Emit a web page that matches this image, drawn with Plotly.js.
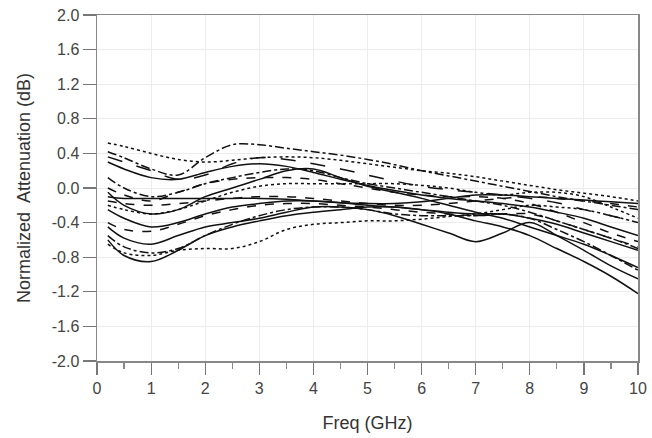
<!DOCTYPE html>
<html><head><meta charset="utf-8">
<script src="https://cdn.plot.ly/plotly-3.0.1.min.js"></script>
<style>html,body{margin:0;padding:0;background:#fff;}</style>
</head><body>
<div id="chart" style="width:652px;height:438px;"></div>
<script>
var freq = [0.2,0.5,1,1.5,2,2.5,3,3.5,4,4.5,5,5.5,6,6.5,7,7.5,8,8.5,9,9.5,10];
var s1  = [0.52,0.48,0.40,0.33,0.30,0.32,0.35,0.36,0.35,0.32,0.28,0.24,0.20,0.17,0.13,0.08,0.03,-0.02,-0.06,-0.10,-0.15];
var s2  = [0.42,0.35,0.22,0.15,0.35,0.50,0.50,0.46,0.42,0.38,0.33,0.27,0.20,0.14,0.08,0.02,-0.04,-0.10,-0.15,-0.20,-0.25];
var s3  = [0.36,0.30,0.20,0.10,0.15,0.28,0.35,0.33,0.28,0.22,0.15,0.08,0.02,-0.02,-0.05,-0.08,-0.12,-0.17,-0.25,-0.32,-0.40];
var s4  = [0.30,0.22,0.12,0.10,0.18,0.25,0.28,0.25,0.18,0.10,0.03,-0.03,-0.08,-0.12,-0.15,-0.18,-0.22,-0.28,-0.35,-0.45,-0.55];
var s5  = [0.12,0.00,-0.10,-0.05,0.05,0.12,0.18,0.22,0.20,0.12,0.05,0.00,-0.05,-0.10,-0.15,-0.20,-0.28,-0.38,-0.48,-0.58,-0.70];
var s6  = [-0.05,-0.20,-0.30,-0.25,-0.10,0.00,0.10,0.20,0.22,0.12,0.02,-0.05,-0.12,-0.20,-0.28,-0.35,-0.45,-0.55,-0.65,-0.78,-0.92];
var s7  = [-0.10,-0.12,-0.12,-0.12,-0.12,-0.12,-0.12,-0.13,-0.15,-0.17,-0.18,-0.18,-0.16,-0.12,-0.08,-0.08,-0.10,-0.12,-0.14,-0.16,-0.18];
var s8  = [-0.15,-0.18,-0.20,-0.18,-0.15,-0.12,-0.10,-0.10,-0.12,-0.15,-0.18,-0.20,-0.20,-0.18,-0.15,-0.12,-0.10,-0.12,-0.15,-0.18,-0.22];
var s9  = [-0.20,-0.25,-0.30,-0.25,-0.15,-0.05,0.02,0.05,0.05,0.05,0.05,0.05,0.03,0.00,-0.05,-0.08,-0.05,-0.05,-0.10,-0.22,-0.35];
var s10 = [-0.25,-0.35,-0.45,-0.40,-0.30,-0.22,-0.18,-0.15,-0.15,-0.17,-0.20,-0.22,-0.25,-0.28,-0.30,-0.30,-0.35,-0.42,-0.52,-0.62,-0.72];
var s11 = [-0.40,-0.48,-0.50,-0.42,-0.32,-0.25,-0.20,-0.18,-0.18,-0.20,-0.22,-0.25,-0.28,-0.30,-0.32,-0.30,-0.30,-0.38,-0.48,-0.58,-0.68];
var s12 = [-0.45,-0.58,-0.65,-0.55,-0.45,-0.40,-0.35,-0.28,-0.22,-0.22,-0.25,-0.32,-0.42,-0.52,-0.62,-0.52,-0.40,-0.55,-0.72,-0.90,-1.05];
var s13 = [-0.55,-0.68,-0.75,-0.70,-0.55,-0.42,-0.32,-0.25,-0.22,-0.22,-0.25,-0.30,-0.32,-0.32,-0.32,-0.30,-0.35,-0.48,-0.62,-0.78,-0.95];
var s14 = [-0.60,-0.78,-0.85,-0.72,-0.55,-0.45,-0.38,-0.32,-0.28,-0.25,-0.22,-0.22,-0.25,-0.30,-0.38,-0.45,-0.55,-0.70,-0.85,-1.02,-1.22];
var s15 = [-0.65,-0.75,-0.78,-0.72,-0.70,-0.70,-0.62,-0.48,-0.42,-0.40,-0.38,-0.38,-0.36,-0.33,-0.30,-0.25,-0.20,-0.22,-0.25,-0.32,-0.40];
var s16 = [0.00,-0.08,-0.15,-0.05,0.05,0.10,0.12,0.12,0.10,0.05,0.00,-0.05,-0.08,-0.10,-0.10,-0.12,-0.18,-0.28,-0.40,-0.52,-0.62];
var yTicks = [-2.0,-1.6,-1.2,-0.8,-0.4,0.0,0.4,0.8,1.2,1.6,2.0];
var xTicks = [0,1,2,3,4,5,6,7,8,9,10];

var series = [s1,s2,s3,s4,s5,s6,s7,s8,s9,s10,s11,s12,s13,s14,s15,s16];
var dashes = ['dot','dashdot','longdash','solid','dashdot','solid','solid','dash','dot','solid','dash','solid','dashdot','solid','dot','dash'];
var traces = series.map(function(s,i){
  return {x: freq, y: s, mode:'lines', type:'scatter',
    line:{color:'#111', width:1.5, dash:dashes[i], shape:'spline', smoothing:1.0},
    showlegend:false, hoverinfo:'skip'};
});

var layout = {
  width:652, height:438,
  margin:{l:97, r:14, t:15, b:77},
  paper_bgcolor:'#fff', plot_bgcolor:'#fff',
  font:{family:'Liberation Sans, Arial, sans-serif', color:'#333', size:16},
  xaxis:{range:[0,10], tickvals:xTicks, ticktext:xTicks.map(String), ticks:'outside', ticklen:12, tickwidth:1.2, tickcolor:'#777',
    showline:true, linecolor:'#888', linewidth:1.5, mirror:true, showgrid:true, gridcolor:'#ececec', gridwidth:1,
    zeroline:false, minor:{dtick:0.5, tick0:0, ticks:'outside', ticklen:6, tickcolor:'#888', showgrid:false},
    title:{text:'Freq (GHz)', font:{size:18, color:'#333'}, standoff:20}, tickfont:{size:16, color:'#444'}},
  yaxis:{range:[-2,2], tickvals:yTicks, ticktext:yTicks.map(function(v){return v.toFixed(1);}), ticks:'outside', ticklen:13, tickwidth:1.2, tickcolor:'#777',
    showline:true, linecolor:'#888', linewidth:1.5, mirror:true, showgrid:true, gridcolor:'#ececec', gridwidth:1,
    zeroline:false, title:{text:'Normalized\u00a0 Attenuation (dB)', font:{size:18, color:'#333'}, standoff:16}, tickfont:{size:16, color:'#444'}}
};
Plotly.newPlot('chart', traces, layout, {staticPlot:true, displayModeBar:false});
</script>
</body></html>
